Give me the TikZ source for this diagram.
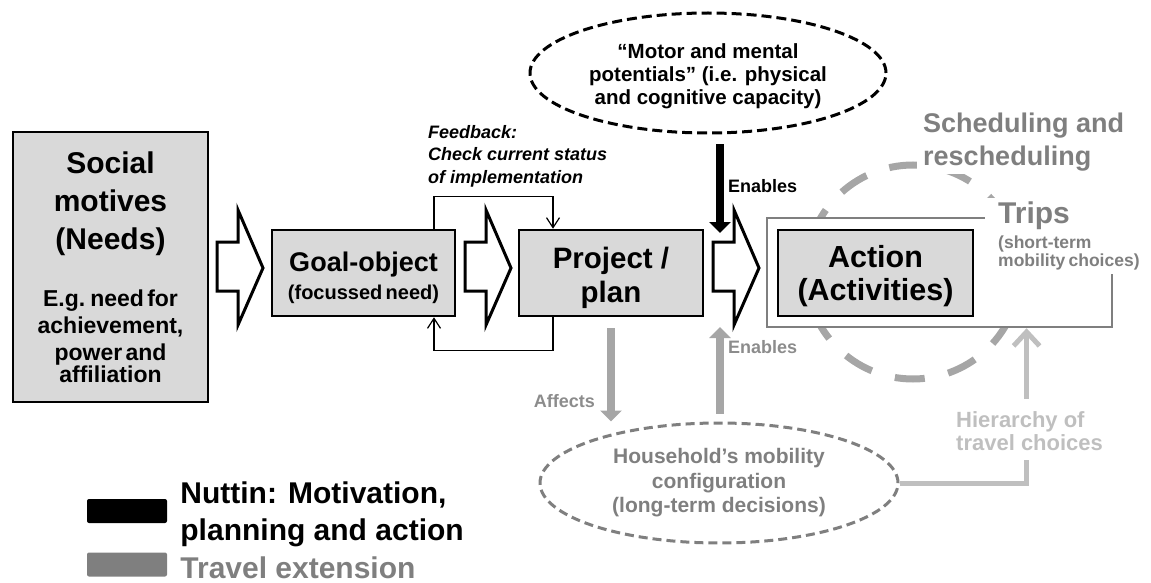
\documentclass[tikz,border=0pt]{standalone}
\usepackage{fontspec}
\setmainfont{Liberation Sans}
\usetikzlibrary{arrows.meta,shapes.geometric,positioning}

\definecolor{boxgray}{HTML}{D9D9D9}
\definecolor{linegray}{HTML}{7F7F7F}
\definecolor{textgray}{HTML}{8C8C8C}
\definecolor{arrowgray}{HTML}{A6A6A6}
\definecolor{hiergray}{HTML}{BFBFBF}

\newcommand{\fsize}[2]{\fontsize{#1}{#2}\selectfont\bfseries}

\tikzset{
    stagebox/.style={draw, line width=2.5pt, fill=boxgray, align=center, inner sep=0pt},
    travelbox/.style={draw=linegray, line width=2.5pt, fill=white, inner sep=0pt},
    blockarrow/.style={draw, line width=3pt, fill=white, line join=miter},
    schedring/.style={circle, draw=arrowgray, line width=7pt, dash pattern=on 30pt off 24pt, inner sep=0pt},
    motorell/.style={ellipse, draw, line width=3pt, dash pattern=on 10pt off 5pt, align=center, inner sep=0pt},
    houseell/.style={ellipse, draw=linegray, text=linegray, line width=3pt, dash pattern=on 9pt off 5pt, align=center, inner sep=0pt},
    tagtext/.style={inner sep=0pt, font=\fsize{18}{20}},
    blackarr/.style={line width=8pt, -{Triangle[length=11pt,width=21pt]}},
    grayarr/.style={blackarr, arrowgray},
    fback/.style={line width=1.2pt, -{Straight Barb[length=10pt,width=13pt]}},
    hierline/.style={hiergray, line width=5pt},
    hierarr/.style={hierline, -{Straight Barb[length=14pt,width=26pt]}},
    keybox/.style={minimum width=80pt, minimum height=24pt, rounded corners=2pt, inner sep=0pt}
}

\begin{document}
\begin{tikzpicture}[x=1pt, y=-1pt]
    \useasboundingbox (0,0) rectangle (1151,583);

    %Place scheduling ring, travel frame and action node
    \node[schedring, minimum size=214pt] (ring) at (913,272) {};
    \node[travelbox, minimum width=345pt, minimum height=109pt] (travel) at (939.5,272.5) {};
    \node[stagebox, minimum width=195pt, minimum height=86pt, font=\fsize{30.5}{33}] (action) at (875.5,273) {\rule{0pt}{28.5pt}Action\\(Activities)};

    %Place trips and scheduling texts
    \node[fill=white, text=linegray, text width=146pt, align=left, inner xsep=13pt, inner ysep=4pt, anchor=north west] (trips) at (985,198) {\fsize{30}{30}Trips\par\vspace{5pt}\fsize{17.5}{17}(short-term\\mobility choices)};
    \node[fill=white, text=linegray, font=\fsize{27}{33}, align=left, anchor=west, inner xsep=6pt, inner ysep=3pt] (sched) at (917,142) {Scheduling and\\rescheduling};

    %Place social motives node
    \node[stagebox, minimum width=195pt, minimum height=270pt, text width=190pt] (social) at (110.5,267) {\fsize{30}{38}Social\\motives\\(Needs)\par\vspace{30pt}\fsize{23}{27}E.g. need for\\achievement,\\power and\\affiliation};

    %Place goal-object node
    \node[stagebox, minimum width=183pt, minimum height=86pt, text width=180pt] (goal) at (363.5,273) {\fsize{27}{30}\rule{0pt}{29pt}Goal-object\par\vspace{7pt}\fsize{20}{25}(focussed need)};

    %Place project node
    \node[stagebox, minimum width=184pt, minimum height=86pt, font=\fsize{29.5}{34}] (project) at (611,273) {\rule{0pt}{31pt}Project /\\plan};

    %Draw block arrows
    \foreach \ax in {217,465,713}
        \draw[blockarrow] (\ax,242) -- ++(21,0) -- ++(0,-32) -- (\ax+46,268) -- (\ax+21,325) -- ++(0,-34) -- (\ax,291) -- cycle;

    %Place feedback text and loop
    \node[font=\fsize{18}{22.5}\itshape, align=left, anchor=west, inner sep=0pt] (feedback) at (428,156) {Feedback:\\Check current status\\of implementation};
    \draw[fback] ([xshift=70.5pt]goal.north) -- ++(0,-32) -| ([xshift=-58pt]project.north);
    \draw[fback] ([xshift=-58pt]project.south) -- ++(0,33) -| ([xshift=70.5pt]goal.south);

    %Place motor potentials node
    \node[motorell, minimum width=356pt, minimum height=120pt, font=\fsize{20.5}{23}] (motor) at (708,73) {\rule{0pt}{21pt}“Motor and mental\\potentials” (i.e. physical\\and cognitive capacity)};
    \coordinate (enabletip) at (720,233);
    \draw[blackarr, shorten <=10pt] (motor.south -| enabletip) -- (enabletip);
    \node[tagtext, anchor=west] (enables) at (728,186) {Enables};

    %Place household node
    \node[houseell, minimum width=358pt, minimum height=120pt, font=\fsize{21}{24.5}] (house) at (719,483) {Household’s mobility\\configuration\\(long-term decisions)};
    \coordinate (enablebase) at (720,327);
    \draw[grayarr, shorten <=8pt] (house.north -| enablebase) -- (enablebase);
    \node[tagtext, text=textgray, anchor=west] (enablesgray) at (728,347) {Enables};
    \draw[grayarr, shorten <=11pt] (project.south) -- (project.south |- house.north);
    \node[tagtext, text=textgray, anchor=east] (affects) at (595,401) {Affects};

    %Place hierarchy text and arrows
    \node[font=\fsize{22}{23}, text=hiergray, align=left, anchor=west, inner sep=0pt] (hier) at (956,431) {Hierarchy of\\travel choices};
    \draw[hierline] (house.east) -| ([xshift=-3pt,yshift=-9pt]hier.south);
    \draw[hierarr] ([xshift=-3pt,yshift=12pt]hier.north) -- ([xshift=-3pt]hier.north |- travel.south);

    %Place legend
    \node[keybox, fill=black] (keynut) at (127,511) {};
    \node[keybox, fill=linegray] (keytrav) at (127,564.5) {};
    \node[font=\fsize{30}{37}, align=left, inner sep=0pt, right=13pt of keynut, yshift=-3pt] (nuttin) {Nuttin: Motivation,\\planning and action};
    \node[font=\fsize{30}{37}, text=linegray, inner sep=0pt, right=13pt of keytrav, yshift=-3pt] (travext) {Travel extension};
\end{tikzpicture}
\end{document}
